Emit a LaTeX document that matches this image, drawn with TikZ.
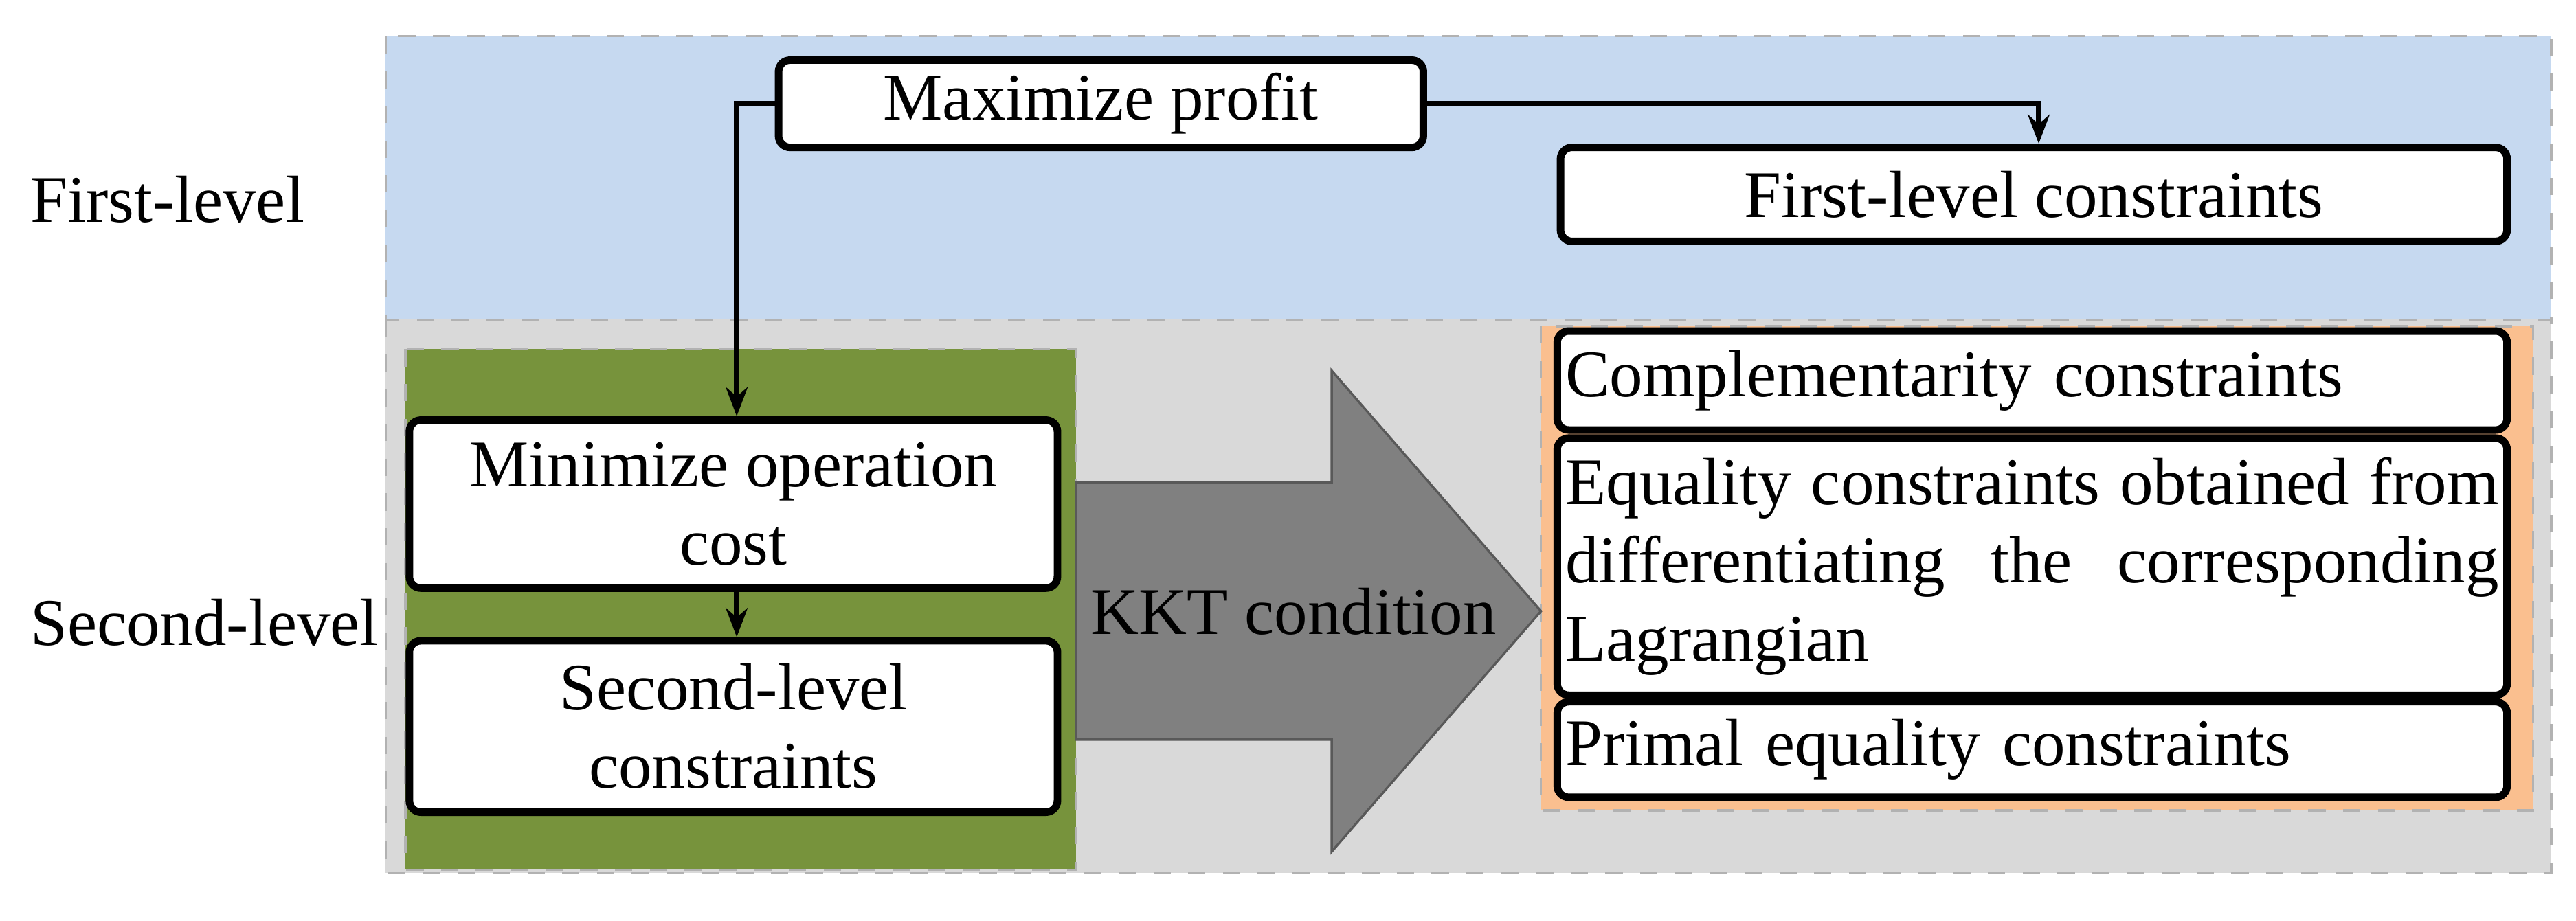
\documentclass[tikz,border=0pt]{standalone}
\usepackage{fontspec}
\setmainfont{Liberation Serif}
\usetikzlibrary{positioning,arrows.meta}

\tikzset{
    box/.style={draw, line width=1.3pt, rounded corners=2pt, fill=white, inner sep=1pt},
    link/.style={line width=1pt, -{Stealth[length=5pt]}},
    zone/.style={draw=gray!60, dashed, line width=0.4pt}
}

\begin{document}
\begin{tikzpicture}[x=0.01cm, y=-0.01cm, font=\fontsize{11.5}{13.5}\selectfont]

    \useasboundingbox (0, 0) rectangle (1563, 559);

    % Levels
    \filldraw[zone, fill={rgb,255:red,198;green,217;blue,240}] (234, 22) rectangle (1548, 194);
    \filldraw[zone, fill={rgb,255:red,217;green,217;blue,217}] (234, 194) rectangle (1548, 530);
    \filldraw[zone, fill={rgb,255:red,119;green,147;blue,60}] (246, 212) rectangle (653, 528);
    \filldraw[zone, fill={rgb,255:red,250;green,191;blue,143}] (935, 198) rectangle (1537, 492);

    \node[anchor=west] (first) at (6, 121) {First-level};
    \node[anchor=west] (second) at (6, 378) {Second-level};

    % KKT arrow
    \filldraw[fill=gray, draw=gray!70!black, line width=0.4pt]
        (653, 293) -- (808, 293) -- (808, 225) -- (935, 371) -- (808, 517) -- (808, 449) -- (653, 449) -- cycle;
    \node (kkt) at (785, 371) {KKT condition};

    % First level
    \node[box, minimum width=3.91cm, minimum height=0.53cm] (profit) at (668, 63) {Maximize profit};
    \node[box, minimum width=5.74cm, minimum height=0.57cm] (flc) at (1234, 118) {First-level constraints};

    % Second level
    \node[box, minimum width=3.93cm, minimum height=1.02cm, align=center] (cost) at (445, 306) {Minimize operation\\cost};
    \node[box, minimum width=3.93cm, minimum height=1.04cm, align=center] (slc) at (445, 441) {Second-level\\constraints};

    % KKT result
    \node[box, minimum width=5.76cm, minimum height=0.6cm, text width=5.66cm, align=left] (comp) at (1233, 231) {Complementarity constraints};
    \node[box, minimum width=5.76cm, minimum height=1.56cm, text width=5.66cm, align=justify] (equal) at (1233, 344) {Equality constraints obtained from differentiating the corresponding Lagrangian};
    \node[box, minimum width=5.76cm, minimum height=0.58cm, text width=5.66cm, align=left] (primal) at (1233, 455) {Primal equality constraints};

    \coordinate (bendl) at (447, 63);
    \coordinate (bendr) at (1237, 63);
    \draw[link] (profit.west) -- (bendl) -- (cost.north -| bendl);
    \draw[link] (profit.east) -- (bendr) -- (flc.north -| bendr);
    \draw[link] (cost.south -| bendl) -- (slc.north -| bendl);

\end{tikzpicture}
\end{document}
